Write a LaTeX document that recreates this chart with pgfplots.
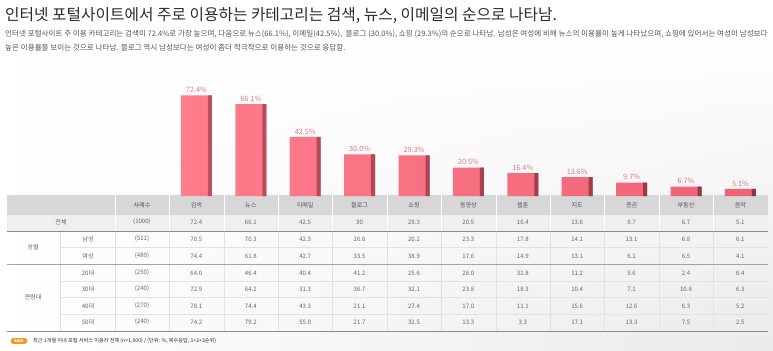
\documentclass[border=0pt]{standalone}
\usepackage{fontspec}
\setmainfont{Noto Sans CJK KR}
\usepackage{pgfplots}
\pgfplotsset{compat=1.18}
\usetikzlibrary{fadings}
\definecolor{barpink}{HTML}{EE6274}
\definecolor{barlight}{HTML}{FF7C8D}
\definecolor{bardark}{HTML}{8E3543}
\definecolor{bardarkl}{HTML}{BE4F5E}
\definecolor{labelcol}{HTML}{DF7683}
\definecolor{titlecol}{HTML}{2B2B2B}
\definecolor{subcol}{HTML}{555555}
\definecolor{tabtext}{HTML}{666666}
\definecolor{hdrgray}{HTML}{D7D7D7}
\definecolor{totgray}{HTML}{EFEFEF}
\definecolor{linedark}{HTML}{8C8C8C}
\definecolor{linelight}{HTML}{E2E2E2}
\definecolor{basecol}{HTML}{EE9A2E}
\begin{document}
\begin{tikzpicture}
\useasboundingbox (0,0) rectangle (773bp,-351bp);
\fill[white] (0,0) rectangle (773bp,-351bp);
\shade[left color=white, right color=black!8, path fading=north] (0,-40bp) rectangle (773bp,-351bp);
\node[anchor=west, inner sep=0, font=\fontsize{15.8}{17}\selectfont, text=titlecol] at (5bp,-15bp) {인터넷 포털사이트에서 주로 이용하는 카테고리는 검색, 뉴스, 이메일의 순으로 나타남.};
\node[anchor=west, inner sep=0, font=\fontsize{7.6}{8}\selectfont, text=subcol] at (5bp,-34bp) {인터넷 포털사이트 주 이용 카테고리는 검색이 72.4\%로 가장 높으며, 다음으로 뉴스(66.1\%), 이메일(42.5\%),~~블로그 (30.0\%), 쇼핑 (29.3\%)의 순으로 나타남. 남성은 여성에 비해 뉴스의 이용률이 높게 나타났으며, 쇼핑에 있어서는 여성이 남성보다};
\node[anchor=west, inner sep=0, font=\fontsize{7.6}{8}\selectfont, text=subcol] at (5bp,-48bp) {높은 이용률을 보이는 것으로 나타남. 블로그 역시 남성보다는 여성이 좀더 적극적으로 이용하는 것으로 응답함.};

\begin{scope}[x=1bp,y=-1bp]
\fill[hdrgray] (7,195) rectangle (768,215);
\fill[totgray] (7,215) rectangle (768,231);
\foreach \k in {0,...,11} {
  \draw[white, line width=0.6bp] ({115+54.4*\k},195) -- ({115+54.4*\k},231);
  \draw[linelight, line width=0.6bp] ({115+54.4*\k},231) -- ({115+54.4*\k},331);
}
\draw[linelight, line width=0.6bp] (60,231) -- (60,331);
\foreach \yy in {247.5,281,297.5,314} \draw[linelight, line width=0.6bp] (60,\yy) -- (768,\yy);
\draw[linedark, line width=0.8bp] (7,231) -- (768,231);
\draw[linedark!80, line width=0.8bp] (7,264) -- (768,264);
\draw[linedark, line width=0.8bp] (7,331) -- (768,331);
\begin{scope}[every node/.style={font=\fontsize{6.1}{7}\selectfont, text=tabtext, inner sep=0}]
\foreach \t [count=\i from 0] in {사례수,검색,뉴스,이메일,블로그,쇼핑,동영상,웹툰,지도,증권,부동산,음악}
  \node[text=subcol] at ({142+54.4*\i},205) {\t};
\foreach \yy/\row in {
  222/{(1000),72.4,66.1,42.5,30,29.3,20.5,16.4,13.6,9.7,6.7,5.1},
  239/{(511),70.5,70.3,42.3,26.6,20.2,23.3,17.8,14.1,13.1,6.8,6.1},
  256/{(489),74.4,61.8,42.7,33.5,38.9,17.6,14.9,13.1,6.1,6.5,4.1},
  273/{(250),64.0,46.4,40.4,41.2,25.6,28.0,32.8,11.2,5.6,2.4,6.4},
  289/{(240),72.9,64.2,31.3,36.7,32.1,23.8,18.3,10.4,7.1,10.8,6.3},
  306/{(270),78.1,74.4,43.3,21.1,27.4,17.0,11.1,15.6,12.6,6.3,5.2},
  322/{(240),74.2,79.2,55.0,21.7,32.5,13.3,3.3,17.1,13.3,7.5,2.5}} {
  \foreach \v [count=\i from 0] in \row {\node at ({142+54.4*\i},\yy) {\v};}
}
\node at (61,222) {전체};
\node at (33,247.5) {성별};
\node at (88,239) {남성};
\node at (88,256) {여성};
\node at (33,297.5) {연령대};
\node at (88,273) {20대};
\node at (88,289) {30대};
\node at (88,306) {40대};
\node at (88,322) {50대};
\end{scope}
\node[fill=basecol, rounded corners=2.5bp, text=white, font=\fontsize{3.6}{4}\selectfont\bfseries, inner xsep=3.5bp, inner ysep=1.5bp] at (19,341) {BASE};
\node[anchor=west, inner sep=0, font=\fontsize{5.2}{6}\selectfont, text=titlecol] at (33,341) {최근 1개월 이내 포털 서비스 이용자 전체 (n=1,000) / (단위: \%, 복수응답, 1+2+3순위)};
\end{scope}

\begin{axis}[at={(6bp,-196bp)}, anchor=south west, scale only axis,
  width=761.6bp, height=139bp, xmin=-3.5, xmax=10.5, ymin=0, ymax=100,
  axis lines=none, clip=false, /pgf/number format/assume math mode=true]
\addplot[ybar, bar width=31bp, bar shift=0pt, draw=none, left color=barlight, right color=barpink,
  nodes near coords={\pgfmathprintnumber[fixed,fixed zerofill,precision=1]{\pgfplotspointmeta}\%},
  every node near coord/.append style={font=\fontsize{7.3}{8}\selectfont, text=labelcol, inner sep=2.5bp}]
  coordinates {(0,72.4) (1,66.1) (2,42.5) (3,30.0) (4,29.3) (5,20.5) (6,16.4) (7,13.6) (8,9.7) (9,6.7) (10,5.1)};
\addplot[ybar, bar width=4bp, bar shift=13.5bp, draw=none, left color=bardarkl, right color=bardark]
  coordinates {(0,72.4) (1,66.1) (2,42.5) (3,30.0) (4,29.3) (5,20.5) (6,16.4) (7,13.6) (8,9.7) (9,6.7) (10,5.1)};
\end{axis}
\end{tikzpicture}
\end{document}
